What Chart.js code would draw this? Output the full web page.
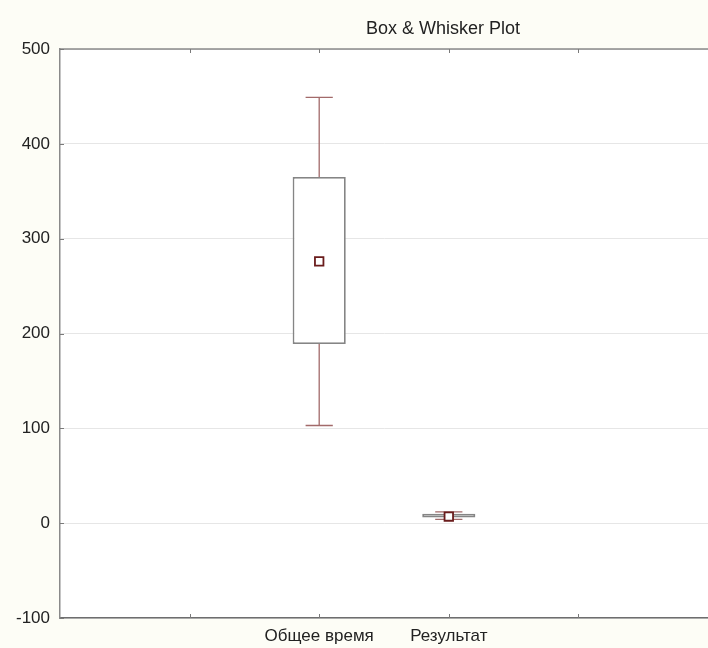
<!DOCTYPE html>
<html>
<head>
<meta charset="utf-8">
<script src="https://cdn.jsdelivr.net/npm/chart.js@4.4.1/dist/chart.umd.min.js"></script>
<style>html,body{margin:0;padding:0;background:#fdfdf6}</style>
</head>
<body>
<canvas id="c" width="708" height="648"></canvas>
<script>
// box & whisker data
const categories = ['Общее время', 'Результат'];
const mins = [103, 4];
const q1s = [189, 6];
const q3s = [365, 10];
const maxs = [449, 12];
const means = [276, 7];
const yMin = -100, yMax = 500, yStep = 100;

// layout constants (not data)
const SLOT_OFFSET = 2;   // first box sits on the 2nd tick of a 0..5 axis
const X_MAX = 5;
const CAP_HALF = 0.105;
const TITLE = 'Box & Whisker Plot';

const boxData = categories.map((_, i) => ({ x: i + SLOT_OFFSET, y: [q1s[i], q3s[i]] }));
const meanData = categories.map((_, i) => ({ x: i + SLOT_OFFSET, y: means[i] }));
const whiskerData = [];
categories.forEach((_, i) => {
  const x = i + SLOT_OFFSET;
  whiskerData.push(
    { x, y: maxs[i] }, { x, y: q3s[i] }, { x, y: null },
    { x, y: q1s[i] }, { x, y: mins[i] }, { x, y: null },
    { x: x - CAP_HALF, y: maxs[i] }, { x: x + CAP_HALF, y: maxs[i] }, { x, y: null },
    { x: x - CAP_HALF, y: mins[i] }, { x: x + CAP_HALF, y: mins[i] }, { x, y: null }
  );
});

const frame = {
  id: 'frame',
  beforeDraw(chart) {
    const { ctx, chartArea: a } = chart;
    ctx.save();
    ctx.fillStyle = '#fdfdf6';
    ctx.fillRect(0, 0, chart.width, chart.height);
    ctx.fillStyle = '#ffffff';
    ctx.fillRect(a.left, a.top, a.right - a.left, a.bottom - a.top);
    ctx.restore();
  },
  afterDraw(chart) {
    const { ctx, chartArea: a, scales: { x, y } } = chart;
    ctx.save();
    ctx.strokeStyle = '#8a8a8a';
    ctx.lineWidth = 1.5;
    ctx.beginPath();
    ctx.moveTo(a.left, a.top);
    ctx.lineTo(a.right, a.top);
    ctx.stroke();
    // little inward tick marks
    ctx.lineWidth = 1;
    ctx.strokeStyle = '#7a7a7a';
    ctx.beginPath();
    x.ticks.forEach(t => {
      if (t.value <= x.min || t.value >= x.max) return;
      const px = Math.round(x.getPixelForValue(t.value)) + 0.5;
      ctx.moveTo(px, a.top); ctx.lineTo(px, a.top + 4);
      ctx.moveTo(px, a.bottom); ctx.lineTo(px, a.bottom - 4);
    });
    y.ticks.forEach(t => {
      const py = Math.round(y.getPixelForValue(t.value)) + 0.5;
      ctx.moveTo(a.left, py); ctx.lineTo(a.left + 4, py);
    });
    ctx.stroke();
    ctx.fillStyle = '#222';
    ctx.font = '18px "Liberation Sans", Arial, sans-serif';
    ctx.textAlign = 'center';
    ctx.textBaseline = 'middle';
    ctx.fillText(TITLE, 443, 29);
    ctx.restore();
  }
};

Chart.defaults.font.family = '"Liberation Sans", Arial, sans-serif';
Chart.defaults.font.size = 17;
Chart.defaults.color = '#222';

new Chart(document.getElementById('c'), {
  type: 'bar',
  data: {
    datasets: [
      {
        type: 'line',
        data: meanData,
        showLine: false,
        pointStyle: 'rect',
        pointRadius: 6,
        pointBorderWidth: 1.8,
        pointBorderColor: '#6a1c1c',
        pointBackgroundColor: '#ffffff',
        order: 0
      },
      {
        type: 'bar',
        data: boxData,
        backgroundColor: '#ffffff',
        borderColor: '#858585',
        borderWidth: 1.8,
        borderSkipped: false,
        categoryPercentage: 1,
        barPercentage: 0.41,
        order: 1
      },
      {
        type: 'line',
        data: whiskerData,
        borderColor: '#a26a6a',
        borderWidth: 1.3,
        pointRadius: 0,
        spanGaps: false,
        order: 2
      }
    ]
  },
  options: {
    responsive: false,
    animation: false,
    layout: { autoPadding: false, padding: { top: 49, left: 0, right: 0, bottom: 0 } },
    plugins: { legend: { display: false }, tooltip: { enabled: false }, title: { display: false } },
    scales: {
      x: {
        type: 'linear',
        min: 0,
        max: X_MAX,
        offset: false,
        grid: { display: false, drawTicks: true, tickLength: 8 },
        border: { display: true, color: '#6e6e6e', width: 1.5 },
        ticks: {
          stepSize: 1,
          autoSkip: false,
          maxRotation: 0,
          padding: 0,
          callback: v => categories[v - SLOT_OFFSET] ?? ''
        },
        afterFit: s => { s.height = 30; }
      },
      y: {
        min: yMin,
        max: yMax,
        grid: { color: '#e6e6e6', lineWidth: 1, drawTicks: false },
        border: { display: true, color: '#8a8a8a', width: 1.5 },
        ticks: { stepSize: yStep, padding: 10 },
        afterFit: s => { s.width = 60; }
      }
    }
  },
  plugins: [frame]
});
</script>
</body>
</html>
